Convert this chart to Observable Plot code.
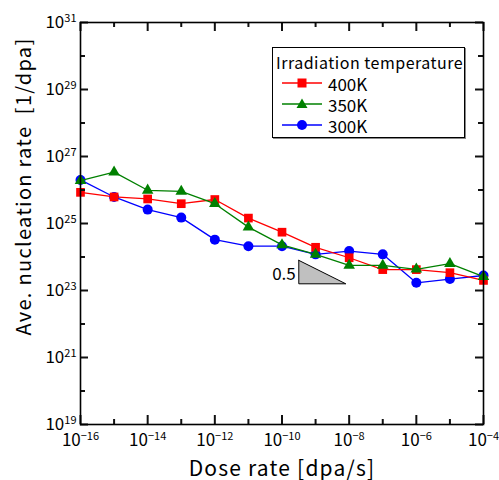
<!DOCTYPE html>
<html><head><meta charset="utf-8">
<script src="https://cdn.jsdelivr.net/npm/d3@7"></script>
<script src="https://cdn.jsdelivr.net/npm/@observablehq/plot@0.6"></script>
<style>
body{margin:0;background:#fff;}
#wrap{position:relative;width:499px;height:480px;font-family:"Noto Sans CJK JP","DejaVu Sans",sans-serif;}
#legend{position:absolute;left:272px;top:47px;width:191px;height:89px;border:1px solid #000;background:#fff;box-shadow:1px 1px 0 #888;font-family:"Noto Sans CJK JP",sans-serif;}
#legend .lt{position:absolute;left:3px;top:4px;font-size:16px;line-height:20px;white-space:nowrap;letter-spacing:0.5px;}
#legend .row{position:absolute;left:8px;height:20px;display:flex;align-items:center;font-size:17px;}
#legend .row svg{margin-right:5px;}
</style></head>
<body><div id="wrap"></div>
<script>
const doseRates = [1e-16,1e-15,1e-14,1e-13,1e-12,1e-11,1e-10,1e-9,1e-8,1e-7,1e-6,1e-5,1e-4];
const rate400K = [8.5e25,6.2e25,5.4e25,3.9e25,5.2e25,1.45e25,5.5e24,1.95e24,9.5e23,4.2e23,4.2e23,3.4e23,2.0e23];
const rate350K = [1.9e26,3.4e26,9.8e25,9.1e25,3.9e25,7.8e24,2.3e24,1.2e24,5.6e23,5.6e23,4.3e23,6.3e23,2.6e23];
const rate300K = [2.0e26,6.2e25,2.6e25,1.5e25,3.3e24,2.1e24,2.1e24,1.2e24,1.5e24,1.2e24,1.7e23,2.2e23,2.8e23];
const seriesNames = ["400K","350K","300K"];
const seriesColors = ["#ff0000","#008000","#0000ff"];
const seriesSymbols = ["square","triangle","circle"];
const seriesValues = [rate400K, rate350K, rate300K];
const drawOrder = [2,0,1];
const xDecades = d3.range(-16,-3);
const yDecades = d3.range(19,32);
const slopeX = [Math.pow(10,-9.5), Math.pow(10,-8.1)];
const slopeY = [Math.pow(10,23.2), Math.pow(10,23.9)];
const slopeLabel = "0.5";
const legendTitle = "Irradiation temperature";
const xLabel = "Dose rate [dpa/s]";
const yLabel = "Ave. nucleation rate  [1/dpa]";

const sup = d => "10^" + String(Math.round(Math.log10(d))).replace("-","\u2212");
const majX = xDecades.filter(e => e % 2 === 0).map(e => Math.pow(10,e));
const minX = xDecades.filter(e => e % 2 !== 0).map(e => Math.pow(10,e));
const majY = yDecades.filter(e => e % 2 !== 0).map(e => Math.pow(10,e));
const minY = yDecades.filter(e => e % 2 === 0).map(e => Math.pow(10,e));

const seriesMarks = drawOrder.flatMap(i => {
  const rows = doseRates.map((x,j) => ({x, y: seriesValues[i][j]}));
  const r = seriesSymbols[i] === "square" ? 4.9 : seriesSymbols[i] === "triangle" ? 4.3 : 5;
  return [
    Plot.line(rows, {x:"x", y:"y", stroke: seriesColors[i], strokeWidth: 1.3}),
    Plot.dot(rows, {x:"x", y:"y", symbol: seriesSymbols[i], fill: seriesColors[i], r, stroke: "none"})
  ];
});

const tri = [
  {x: slopeX[0], y: slopeY[1]},
  {x: slopeX[0], y: slopeY[0]},
  {x: slopeX[1], y: slopeY[0]},
  {x: slopeX[0], y: slopeY[1]}
];

const innerW = 499 - 80 - 16, innerH = 480 - 22 - 56;
const tk = {stroke: "#111", strokeWidth: 2};
const chart = Plot.plot({
  width: 499, height: 480,
  marginLeft: 80, marginRight: 16, marginTop: 22, marginBottom: 56,
  style: {fontFamily: '"Noto Sans CJK JP","DejaVu Sans",sans-serif', background: "#fff", color: "#000"},
  x: {type: "log", domain: [1e-16, 1e-4]},
  y: {type: "log", domain: [1e19, 1e31]},
  marks: [
    Plot.line(tri, {x:"x", y:"y", fill: "#c0c0c0", stroke: "#000", strokeWidth: 1}),
    Plot.text([slopeLabel], {x: () => slopeX[0], y: () => Math.sqrt(slopeY[0]*slopeY[1]), text: d => d, textAnchor: "end", dx: -3, dy: 2, fontSize: 17}),
    ...seriesMarks,
    Plot.axisX({anchor: "bottom", ticks: majX, tickSize: 0, tickPadding: 9, tickFormat: sup, fontSize: 17, label: null}),
    Plot.axisY({anchor: "left", ticks: majY, tickSize: 0, tickPadding: 4, tickFormat: sup, fontSize: 17, label: null}),
    Plot.tickX(majX, {x: d => d, insetTop: innerH - 9, ...tk}),
    Plot.tickX(minX, {x: d => d, insetTop: innerH - 5, ...tk}),
    Plot.tickX(majX, {x: d => d, insetBottom: innerH - 9, ...tk}),
    Plot.tickX(minX, {x: d => d, insetBottom: innerH - 5, ...tk}),
    Plot.tickY(majY, {y: d => d, insetRight: innerW - 8, ...tk}),
    Plot.tickY(minY, {y: d => d, insetRight: innerW - 5, ...tk}),
    Plot.tickY(majY, {y: d => d, insetLeft: innerW - 8, ...tk}),
    Plot.tickY(minY, {y: d => d, insetLeft: innerW - 5, ...tk}),
    Plot.text([xLabel], {frameAnchor: "bottom", dy: 45, fontSize: 21, lineAnchor: "middle", textAnchor: "middle", text: d => d}),
    Plot.text([yLabel], {frameAnchor: "left", rotate: -90, dx: -56, dy: -37, fontSize: 20, lineAnchor: "middle", textAnchor: "middle", text: d => d}),
    Plot.frame({stroke: "#000", strokeWidth: 1.6})
  ]
});

const ns = "http://www.w3.org/2000/svg";
chart.querySelectorAll("text").forEach(t => {
  const m = t.textContent.match(/^10\^(.+)$/);
  if (m) {
    t.textContent = "10";
    const ts = document.createElementNS(ns, "tspan");
    ts.setAttribute("dy", "-0.55em");
    ts.setAttribute("font-size", "11");
    ts.textContent = m[1];
    t.appendChild(ts);
  }
  if (t.textContent === xLabel) t.setAttribute("letter-spacing", "1.2");
  if (t.textContent === yLabel) t.setAttribute("letter-spacing", "1.3");
});

const wrap = document.getElementById("wrap");
wrap.appendChild(chart);

const leg = document.createElement("div");
leg.id = "legend";
const lt = document.createElement("div");
lt.className = "lt";
lt.textContent = legendTitle;
leg.appendChild(lt);
const symPath = {
  square: '<rect x="16.5" y="5.5" width="9" height="9"/>',
  triangle: '<path d="M21,4.5 L26.5,14 L15.5,14 Z"/>',
  circle: '<circle cx="21" cy="10" r="5"/>'
};
seriesNames.forEach((name, i) => {
  const row = document.createElement("div");
  row.className = "row";
  row.style.top = (25 + i * 21) + "px";
  row.innerHTML = `<svg width="42" height="20"><line x1="1" x2="41" y1="10" y2="10" stroke="${seriesColors[i]}" stroke-width="1.3"/><g fill="${seriesColors[i]}">${symPath[seriesSymbols[i]]}</g></svg><span>${name}</span>`;
  leg.appendChild(row);
});
wrap.appendChild(leg);
</script>
</body></html>
